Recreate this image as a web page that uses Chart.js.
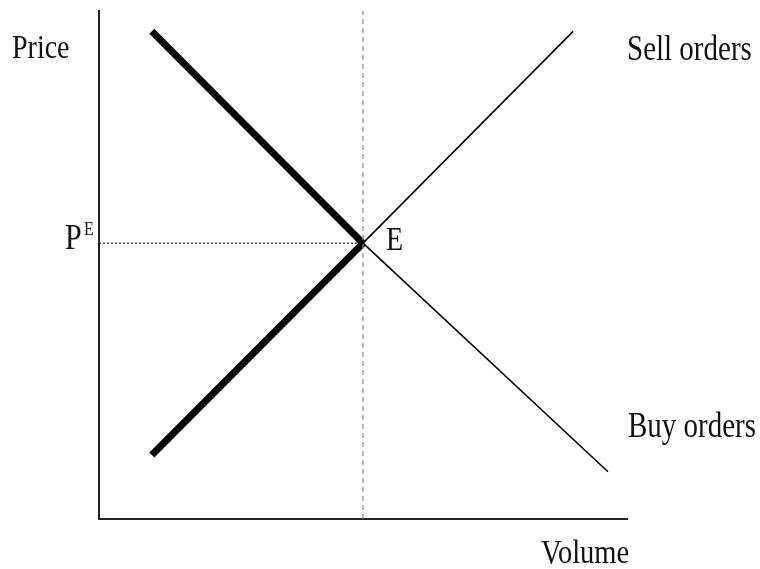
<!DOCTYPE html>
<html>
<head>
<meta charset="utf-8">
<script src="https://cdn.jsdelivr.net/npm/chart.js@4"></script>
<style>
  body { margin: 0; background: #fff; }
</style>
</head>
<body>
<canvas id="myChart" width="760" height="569"></canvas>
<script>
// order book sketch: buy / sell orders crossing at E

const eqVolume = 50;
const eqPrice = 54.3;

const buyVolumes = [10, 50, 96.4];
const buyPrices = [96, 54.3, 9.3];

const sellVolumes = [10, 50, 89.8];
const sellPrices = [12.6, 54.3, 96];

const guideTop = 100;

function pts(xs, ys) {
  return xs.map((v, i) => ({ x: v, y: ys[i] }));
}

// thick up to the equilibrium, thin after it
const segWidth = c => (c.p0.parsed.x < eqVolume ? 7 : 1.6);

const notes = {
  id: 'notes',
  afterDraw(chart) {
    const { ctx } = chart;
    const x = chart.scales.x, y = chart.scales.y;
    const put = (text, px, py, size) => {
      ctx.save();
      ctx.translate(px, py);
      ctx.scale(1, 1.2);
      ctx.font = size + 'px "Liberation Serif", "Times New Roman", serif';
      ctx.fillStyle = '#111';
      ctx.textBaseline = 'alphabetic';
      ctx.fillText(text, 0, 0);
      ctx.restore();
    };
    const pe = y.getPixelForValue(eqPrice);
    const ex = x.getPixelForValue(eqVolume);
    put('Price', 12, 58, 28);
    put('Sell orders', 627, 60, 29);
    put('Buy orders', 628, 437, 29);
    put('Volume', 541, 563, 28.5);
    put('P', 65, pe + 6, 30);
    put('E', 84, pe - 8, 16);
    put('E', ex + 23, pe + 7, 28);
  }
};

const ctx = document.getElementById('myChart');

new Chart(ctx, {
  type: 'scatter',
  data: {
    datasets: [
      {
        label: 'guide v',
        data: pts([eqVolume, eqVolume], [0, guideTop]),
        showLine: true,
        borderColor: '#8a8a8a',
        borderWidth: 1.2,
        borderDash: [5, 4],
        pointRadius: 0
      },
      {
        label: 'guide h',
        data: pts([0, eqVolume], [eqPrice, eqPrice]),
        showLine: true,
        borderColor: '#222',
        borderWidth: 1.2,
        borderDash: [2, 2],
        pointRadius: 0
      },
      {
        label: 'Buy orders',
        data: pts(buyVolumes, buyPrices),
        showLine: true,
        borderColor: '#000',
        borderWidth: 1.6,
        borderJoinStyle: 'miter',
        pointRadius: 0,
        segment: { borderWidth: segWidth }
      },
      {
        label: 'Sell orders',
        data: pts(sellVolumes, sellPrices),
        showLine: true,
        borderColor: '#000',
        borderWidth: 1.6,
        borderJoinStyle: 'miter',
        pointRadius: 0,
        segment: { borderWidth: segWidth }
      }
    ]
  },
  options: {
    responsive: false,
    animation: false,
    layout: { padding: { left: 91, right: 133, top: 11, bottom: 42 } },
    plugins: {
      legend: { display: false },
      tooltip: { enabled: false }
    },
    scales: {
      x: {
        type: 'linear',
        min: 0,
        max: 100,
        grid: { display: false },
        ticks: { display: false },
        border: { display: true, color: '#222', width: 2 }
      },
      y: {
        type: 'linear',
        min: 0,
        max: 100,
        grid: { display: false },
        ticks: { display: false },
        border: { display: true, color: '#222', width: 2 }
      }
    }
  },
  plugins: [notes]
});
</script>
</body>
</html>
